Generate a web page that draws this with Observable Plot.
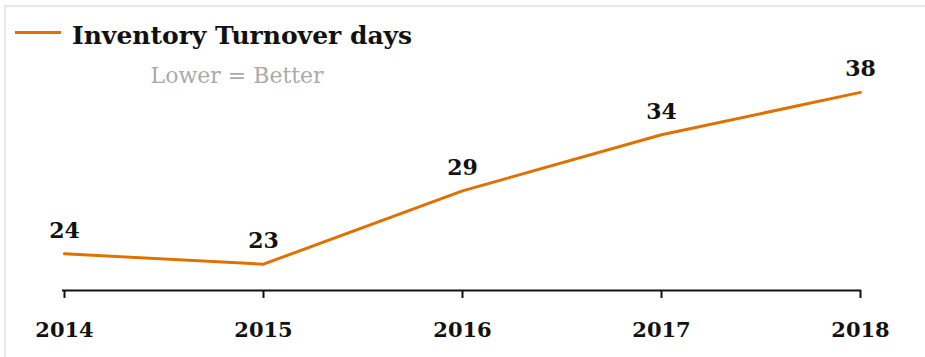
<!DOCTYPE html>
<html>
<head>
<meta charset="utf-8">
<script src="https://cdn.jsdelivr.net/npm/d3@7"></script>
<script src="https://cdn.jsdelivr.net/npm/@observablehq/plot@0.6"></script>
<style>
  html, body { margin: 0; padding: 0; background: #fff; }
  #wrap { position: relative; width: 925px; height: 357px; overflow: hidden; }
  #border { position: absolute; left: 4px; top: 5px; width: 940px; height: 370px;
            border-top: 2px solid #e8e8e8; border-left: 2px solid #e8e8e8; box-sizing: border-box; }
  #chart { position: absolute; left: 0; top: 0; }
  #legend { position: absolute; left: 15px; top: 0; }
  #swatch { position: absolute; left: 0; top: 30.5px; width: 46px; height: 3px; background: #e07000; }
  #titlebox { position: absolute; left: 57px; top: 23px; text-align: center; white-space: nowrap; }
  #title { font-family: "DejaVu Serif", serif; font-weight: bold; font-size: 25px; line-height: 25px; color: #111; }
  #subtitle { position: relative; left: -5px; font-family: "DejaVu Serif", serif; font-size: 22px; line-height: 22px; color: #aaa; margin-top: 17px; }
</style>
</head>
<body>
<div id="wrap">
  <div id="border"></div>
  <div id="chart"></div>
  <div id="legend">
    <div id="swatch"></div>
    <div id="titlebox">
      <div id="title"></div>
      <div id="subtitle"></div>
    </div>
  </div>
</div>
<script>
const years = ["2014", "2015", "2016", "2017", "2018"];
const turnoverDays = [23.9, 23.0, 29.4, 34.3, 38.0];
const seriesName = "Inventory Turnover days";
const subtitleText = "Lower = Better";
const yDomain = [20.7, 40];

const data = years.map((year, i) => ({year, value: turnoverDays[i]}));
const lineColor = "#e07000";

document.getElementById("title").textContent = seriesName;
document.getElementById("subtitle").textContent = subtitleText;

const chart = Plot.plot({
  width: 925,
  height: 357,
  marginLeft: 62,
  marginRight: 64,
  marginTop: 69,
  marginBottom: 67,
  style: {fontFamily: "DejaVu Serif, serif", fontSize: "21px", fontWeight: "bold", color: "#111", background: "transparent"},
  x: {type: "point", domain: years, padding: 0},
  y: {domain: yDomain, axis: null},
  marks: [
    Plot.ruleY([yDomain[0]], {stroke: "#111", strokeWidth: 2}),
    Plot.axisX({tickSize: 8, tickPadding: 24, strokeWidth: 2, stroke: "#111", fill: "#111", label: null, fontSize: 21}),
    Plot.line(data, {x: "year", y: "value", stroke: lineColor, strokeWidth: 3}),
    Plot.text(data, {x: "year", y: "value", text: d => String(Math.round(d.value)), dy: -16, lineAnchor: "bottom", fill: "#111", fontSize: 22})
  ]
});
document.getElementById("chart").appendChild(chart);
</script>
</body>
</html>
